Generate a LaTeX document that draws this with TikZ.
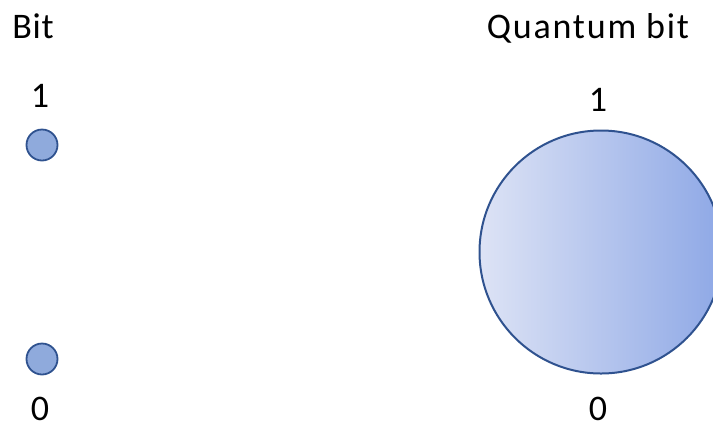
\documentclass[tikz,border=0pt]{standalone}
\usepackage{fontspec}
\setmainfont{Carlito}
\definecolor{bitfill}{HTML}{8FAADC}
\definecolor{bitline}{HTML}{2F528F}
\definecolor{qleft}{HTML}{DDE3F5}
\definecolor{qright}{HTML}{8EA8E6}
\begin{document}
\begin{tikzpicture}[x=1bp,y=-1bp,
  lbl/.style={font=\fontsize{36bp}{40bp}\selectfont, anchor=base, inner sep=0pt},
  smallbit/.style={circle, draw=bitline, fill=bitfill, line width=1.8bp, minimum size=31bp, inner sep=0pt},
  qbit/.style={circle, draw=bitline, line width=2bp, minimum size=243bp, inner sep=0pt, left color=qleft, right color=qright}]
\clip (0,0) rectangle (713,426);
\useasboundingbox (0,0) rectangle (713,426);
\node[lbl] (bitt) at (33,38) {\addfontfeature{LetterSpace=2}Bit};
\node[lbl] (one) at (40,107) {1};
\node[smallbit] (b1) at (42,145) {};
\node[smallbit] (b0) at (42,359) {};
\node[lbl] (zero) at (40,420) {0};
\node[lbl] (qt) at (588,38) {\addfontfeature{LetterSpace=5}Quantum bit};
\node[lbl] (qone) at (598,111) {1};
\node[qbit] (q) at (601,252) {};
\node[lbl] (qzero) at (598,420) {0};
\end{tikzpicture}
\end{document}
